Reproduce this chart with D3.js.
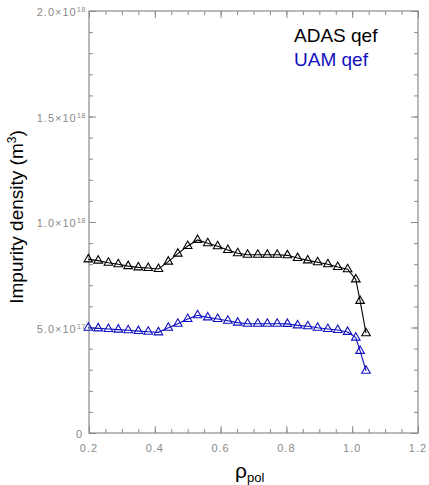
<!DOCTYPE html>
<html><head><meta charset="utf-8">
<script src="https://cdn.jsdelivr.net/npm/d3@7"></script>
<style>body{margin:0;background:#fff}svg{display:block}</style>
</head><body><svg id="c" width="429" height="485"></svg>
<script>
// ---- data ----
const rho = [0.198, 0.228, 0.259, 0.289, 0.319, 0.350, 0.380, 0.411, 0.441, 0.470,
             0.500, 0.530, 0.561, 0.591, 0.622, 0.652, 0.682, 0.713, 0.742, 0.772,
             0.803, 0.834, 0.865, 0.895, 0.926, 0.956, 0.986, 1.011, 1.024, 1.042];
const adasQef = [8.23e17, 8.17e17, 8.07e17, 8.00e17, 7.91e17, 7.85e17, 7.82e17, 7.77e17, 8.12e17, 8.50e17,
                 8.86e17, 9.15e17, 8.99e17, 8.85e17, 8.67e17, 8.52e17, 8.45e17, 8.45e17, 8.45e17, 8.45e17,
                 8.42e17, 8.29e17, 8.18e17, 8.09e17, 8.00e17, 7.87e17, 7.76e17, 7.28e17, 6.26e17, 4.73e17];
const uamQef = [4.99e17, 4.96e17, 4.93e17, 4.90e17, 4.87e17, 4.83e17, 4.80e17, 4.77e17, 4.99e17, 5.18e17,
                5.40e17, 5.58e17, 5.48e17, 5.40e17, 5.32e17, 5.23e17, 5.18e17, 5.18e17, 5.18e17, 5.18e17,
                5.17e17, 5.10e17, 5.06e17, 4.99e17, 4.93e17, 4.88e17, 4.79e17, 4.52e17, 3.89e17, 2.95e17];
const seriesNames = ["ADAS qef", "UAM qef"];
const seriesColors = ["#000000", "#1010c0"];
const xTicks = [0.2, 0.4, 0.6, 0.8, 1.0, 1.2];
const xTickLabels = ["0.2", "0.4", "0.6", "0.8", "1.0", "1.2"];
const xMinorTicks = d3.range(0.2, 1.2001, 0.05);
const yTicks = [0, 5e17, 1e18, 1.5e18, 2e18];
const yTickMantissa = ["0", "5.0×10", "1.0×10", "1.5×10", "2.0×10"];
const yTickExponent = ["", "17", "18", "18", "18"];
const yMinorTicks = d3.range(0, 2.0001e18, 1e17);

// ---- layout ----
const L = 89, R = 418, T = 11, B = 433;
const axisColor = "#8a8a8a";
const svg = d3.select("#c");
const x = d3.scaleLinear().domain([0.2, 1.2]).range([L, R]);
const y = d3.scaleLinear().domain([0, 2e18]).range([B, T]);

function styleAxis(g) {
  g.select(".domain").remove();
  g.selectAll("line").attr("stroke", axisColor).attr("stroke-width", 1);
  g.selectAll("text").remove();
}
// minor & major ticks, inward, on all four sides
svg.append("g").attr("transform", `translate(${L},0)`)
  .call(d3.axisLeft(y).tickValues(yMinorTicks).tickSize(-4).tickFormat("")).call(styleAxis);
svg.append("g").attr("transform", `translate(${L},0)`)
  .call(d3.axisLeft(y).tickValues(yTicks).tickSize(-7).tickFormat("")).call(styleAxis);
svg.append("g").attr("transform", `translate(${R},0)`)
  .call(d3.axisRight(y).tickValues(yMinorTicks).tickSize(-4).tickFormat("")).call(styleAxis);
svg.append("g").attr("transform", `translate(${R},0)`)
  .call(d3.axisRight(y).tickValues(yTicks).tickSize(-7).tickFormat("")).call(styleAxis);
svg.append("g").attr("transform", `translate(0,${B})`)
  .call(d3.axisBottom(x).tickValues(xMinorTicks).tickSize(-4).tickFormat("")).call(styleAxis);
svg.append("g").attr("transform", `translate(0,${B})`)
  .call(d3.axisBottom(x).tickValues(xTicks).tickSize(-7).tickFormat("")).call(styleAxis);
svg.append("g").attr("transform", `translate(0,${T})`)
  .call(d3.axisTop(x).tickValues(xMinorTicks).tickSize(-4).tickFormat("")).call(styleAxis);
svg.append("g").attr("transform", `translate(0,${T})`)
  .call(d3.axisTop(x).tickValues(xTicks).tickSize(-7).tickFormat("")).call(styleAxis);

svg.append("rect").attr("x", L).attr("y", T).attr("width", R - L).attr("height", B - T)
  .attr("fill", "none").attr("stroke", axisColor).attr("stroke-width", 1.2);

// tick labels
const lblFont = "'Liberation Sans', Arial, sans-serif";
const xl = svg.append("g");
xTicks.forEach((v, i) => {
  xl.append("text").attr("x", x(v)).attr("y", B + 19)
    .attr("text-anchor", "middle").attr("font-family", lblFont).attr("font-size", 11)
    .attr("letter-spacing", 1).attr("fill", axisColor).text(xTickLabels[i]);
});
const yl = svg.append("g");
yTicks.forEach((v, i) => {
  const t = yl.append("text").attr("x", L - 3).attr("y", y(v) + 5)
    .attr("text-anchor", "end").attr("font-family", lblFont).attr("font-size", 11)
    .attr("letter-spacing", 1).attr("fill", axisColor);
  if (yTickExponent[i] === "") {
    t.attr("x", L - 6).text(yTickMantissa[i]);
  } else {
    t.append("tspan").text(yTickMantissa[i]);
    t.append("tspan").attr("dy", -4).attr("font-size", 7.5).attr("letter-spacing", 0.5).text(yTickExponent[i]);
  }
});

// series
const line = d3.line().x(d => x(d[0])).y(d => y(d[1]));
const tri = d3.symbol().type(d3.symbolTriangle).size(32);
[adasQef, uamQef].forEach((vals, k) => {
  const pts = rho.map((r, i) => [r, vals[i]]);
  svg.append("path").datum(pts).attr("d", line).attr("fill", "none")
    .attr("stroke", seriesColors[k]).attr("stroke-width", 1.1);
  svg.append("g").selectAll("path").data(pts).join("path")
    .attr("d", tri).attr("transform", d => `translate(${x(d[0])},${y(d[1])})`)
    .attr("fill", "none").attr("stroke", seriesColors[k]).attr("stroke-width", 1.1);
});

// legend
seriesNames.forEach((n, k) => {
  svg.append("text").attr("x", 294).attr("y", 42 + k * 24)
    .attr("font-family", lblFont).attr("font-size", 19).attr("fill", seriesColors[k]).text(n);
});

// axis titles
const yt = svg.append("text").attr("transform", "translate(23,217) rotate(-90)")
  .attr("text-anchor", "middle").attr("font-family", lblFont).attr("font-size", 19).attr("fill", "#000");
yt.append("tspan").text("Impurity density (m");
yt.append("tspan").attr("dy", -7).attr("font-size", 12).text("3");
yt.append("tspan").attr("dy", 7).text(")");

const xt = svg.append("text").attr("x", 235).attr("y", 478)
  .attr("font-family", lblFont).attr("font-size", 21).attr("fill", "#000");
xt.append("tspan").text("ρ");
xt.append("tspan").attr("dy", 4).attr("font-size", 13).text("pol");
</script></body></html>
